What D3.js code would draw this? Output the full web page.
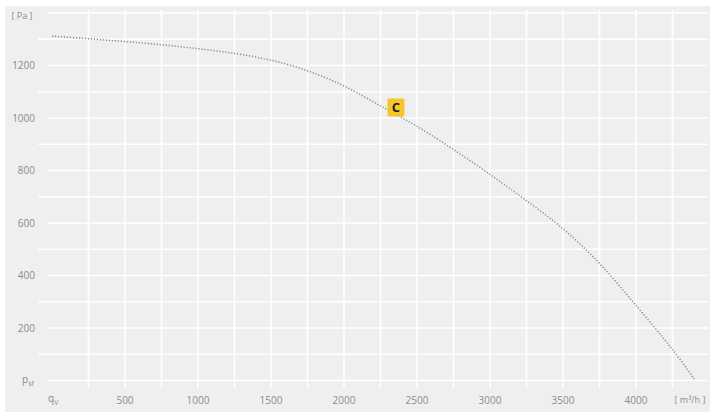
<!DOCTYPE html>
<html><head><meta charset="utf-8">
<script src="https://cdn.jsdelivr.net/npm/d3@7/dist/d3.min.js"></script>
<style>body{margin:0;background:#fff}svg{display:block}</style>
</head><body><svg id="c" width="712" height="412"></svg>
<script>
const flow = [0, 250, 500, 750, 1000, 1250, 1500, 1750, 2000, 2250, 2500, 2750, 3000, 3250, 3500, 3750, 4000, 4250, 4400];
const pressure = [1312, 1302, 1291, 1279, 1264, 1246, 1220, 1180, 1122, 1046, 968, 880, 785, 685, 578, 446, 286, 118, 5];
const xTicks = [500, 1000, 1500, 2000, 2500, 3000, 3500, 4000];
const yTicks = [200, 400, 600, 800, 1000, 1200];
const xGrid = [250, 500, 750, 1000, 1250, 1500, 1750, 2000, 2250, 2500, 2750, 3000, 3250, 3500, 3750, 4000, 4250];
const yGrid = [0, 100, 200, 300, 400, 500, 600, 700, 800, 900, 1000, 1100, 1200, 1300, 1400];
const pointC = {label: "C", flow: 2356, p: 1040};

const svg = d3.select("#c");
const x = d3.scaleLinear().domain([0, 4000]).range([52, 636]);
const y = d3.scaleLinear().domain([0, 1400]).range([380.5, 13]);
const font = "'Open Sans', sans-serif";
const txt = "#8c8c8c";

svg.append("rect").attr("x", 5).attr("y", 6).attr("width", 705).attr("height", 406).attr("fill", "#efefef");

svg.append("g").selectAll("line").data(xGrid).join("line")
  .attr("x1", d => x(d)).attr("x2", d => x(d)).attr("y1", 10).attr("y2", 388)
  .attr("stroke", "#fff").attr("stroke-width", 1.6);
svg.append("g").selectAll("line").data(yGrid).join("line")
  .attr("x1", d => (d % 200 === 0 ? 48 : 38)).attr("x2", 708)
  .attr("y1", d => y(d)).attr("y2", d => y(d))
  .attr("stroke", "#fff").attr("stroke-width", 1.6);

// y tick labels
svg.append("g").selectAll("text").data(yTicks).join("text")
  .attr("x", 35).attr("y", d => y(d)).attr("dy", "0.35em").attr("text-anchor", "end")
  .attr("font-family", font).attr("font-size", 10).attr("fill", txt).text(d => d);
// x tick labels
svg.append("g").selectAll("text").data(xTicks).join("text")
  .attr("x", d => x(d)).attr("y", 400).attr("dy", "0.35em").attr("text-anchor", "middle")
  .attr("font-family", font).attr("font-size", 10).attr("fill", txt).text(d => d);

// axis symbols
const qv = svg.append("text").attr("x", 48).attr("y", 398).attr("dy", "0.35em")
  .attr("font-family", font).attr("font-size", 10).attr("fill", txt);
qv.append("tspan").text("q");
qv.append("tspan").attr("font-size", 7).attr("dy", 3).text("V");
const psf = svg.append("text").attr("x", 22).attr("y", 379).attr("dy", "0.35em")
  .attr("font-family", font).attr("font-size", 10).attr("fill", txt);
psf.append("tspan").text("p");
psf.append("tspan").attr("font-size", 7).attr("dy", 3).text("sf");

svg.append("text").attr("x", 22).attr("y", 16).attr("dy", "0.35em").attr("text-anchor", "middle")
  .attr("font-family", font).attr("font-size", 9).attr("fill", txt).text("[ Pa ]");
svg.append("text").attr("x", 690).attr("y", 400).attr("dy", "0.35em").attr("text-anchor", "middle")
  .attr("font-family", font).attr("font-size", 9).attr("fill", txt).text("[ m³/h ]");

// curve
const pts = flow.map((f, i) => [f, pressure[i]]);
const line = d3.line().x(d => x(d[0])).y(d => y(d[1])).curve(d3.curveCatmullRom.alpha(0.5));
svg.append("path").attr("d", line(pts)).attr("fill", "none")
  .attr("stroke", "#8a8a8a").attr("stroke-width", 1.5).attr("stroke-dasharray", "1.2,1.8");

// point C marker
const cx = x(pointC.flow), cy = y(pointC.p);
svg.append("rect").attr("x", cx - 8.5).attr("y", cy - 9).attr("width", 17).attr("height", 18)
  .attr("rx", 1.5).attr("fill", "#f6c42b");
svg.append("text").attr("x", cx).attr("y", cy).attr("dy", "0.36em").attr("text-anchor", "middle")
  .attr("font-family", font).attr("font-weight", "bold").attr("font-size", 13).attr("fill", "#222")
  .text(pointC.label);
</script></body></html>
